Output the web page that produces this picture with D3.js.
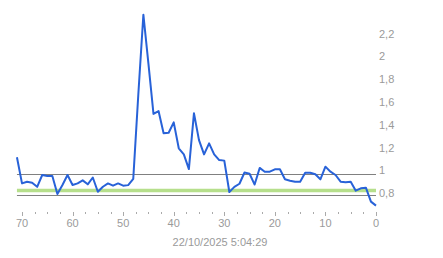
<!DOCTYPE html>
<html>
<head>
<meta charset="utf-8">
<script src="https://cdn.jsdelivr.net/npm/d3@7"></script>
<style>
  body { margin: 0; background: #fff; }
  svg text { font-family: "Liberation Sans", Arial, sans-serif; fill: #9a9a9a; }
</style>
</head>
<body>
<div id="chart"></div>
<script>
// x = periods back (71 .. 0), one value per period
var periods = d3.range(71, -1, -1);
var values = [
  1.149, 0.92, 0.935, 0.926, 0.89, 0.994, 0.985, 0.985, 0.827, 0.906,
  0.994, 0.906, 0.92, 0.947, 0.912, 0.972, 0.847, 0.891, 0.92, 0.9,
  0.92, 0.9, 0.905, 0.96, 1.70, 2.40, 1.97, 1.53, 1.555, 1.36,
  1.365, 1.456, 1.228, 1.175, 1.046, 1.535, 1.30, 1.175, 1.272, 1.175,
  1.125, 1.12, 0.845, 0.89, 0.917, 1.016, 1.005, 0.91, 1.056, 1.023,
  1.023, 1.044, 1.044, 0.956, 0.944, 0.935, 0.935, 1.014, 1.014, 1.0,
  0.956, 1.067, 1.023, 0.994, 0.935, 0.93, 0.935, 0.856, 0.877, 0.883,
  0.76, 0.725
];
var refLines = [1.0, 0.815];
var greenLine = [0.857];
var xTicks = [70, 60, 50, 40, 30, 20, 10, 0];
var xMinorTicks = d3.range(0, 70.1, 2.5);
var yTicks = [0.8, 1, 1.2, 1.4, 1.6, 1.8, 2, 2.2];
var dateLabel = "22/10/2025 5:04:29";

(function() {
  var width = 443, height = 258;

  var svg = d3.select("#chart").append("svg")
    .attr("width", width)
    .attr("height", height);

  var x = d3.scaleLinear().domain([70, 0]).range([22, 376]);
  var y = d3.scaleLinear().domain([1, 2.2]).range([174.3, 37.5]);

  var fmt = function(v) { return d3.format("~g")(+v.toFixed(1)).replace(".", ","); };

  // y labels, baseline sitting on the tick value
  svg.append("g").selectAll("text")
    .data(yTicks)
    .enter().append("text")
    .attr("x", 379)
    .attr("y", function(d) { return y(d); })
    .style("font-size", "11px")
    .text(fmt);

  // reference lines
  svg.append("g").selectAll("line")
    .data(refLines)
    .enter().append("line")
    .attr("x1", x(71)).attr("x2", x(0))
    .attr("y1", function(d) { return Math.round(y(d)) + 0.5; })
    .attr("y2", function(d) { return Math.round(y(d)) + 0.5; })
    .attr("stroke", "#808080")
    .attr("stroke-width", 1);

  svg.append("g").selectAll("line")
    .data(greenLine)
    .enter().append("line")
    .attr("x1", x(71)).attr("x2", x(0))
    .attr("y1", function(d) { return y(d); })
    .attr("y2", function(d) { return y(d); })
    .attr("stroke", "#b6df8c")
    .attr("stroke-width", 3.5);

  // the series
  var line = d3.line()
    .x(function(d, i) { return x(periods[i]); })
    .y(function(d) { return y(d); });

  svg.append("path")
    .datum(values)
    .attr("d", line)
    .attr("fill", "none")
    .attr("stroke", "#2862d8")
    .attr("stroke-width", 2)
    .attr("stroke-linejoin", "round");

  // x axis ticks
  var axisY = 212;
  svg.append("g").selectAll("line")
    .data(xMinorTicks)
    .enter().append("line")
    .attr("x1", function(d) { return Math.round(x(d)) + 0.5; })
    .attr("x2", function(d) { return Math.round(x(d)) + 0.5; })
    .attr("y1", axisY)
    .attr("y2", function(d) { return d % 10 === 0 ? axisY + 4 : axisY + 2; })
    .attr("stroke", "#aaa");

  svg.append("g").selectAll("text")
    .data(xTicks)
    .enter().append("text")
    .attr("x", function(d) { return x(d); })
    .attr("y", 226.5)
    .attr("text-anchor", "middle")
    .style("font-size", "11px")
    .text(function(d) { return d; });

  svg.append("text")
    .attr("x", 220)
    .attr("y", 245.5)
    .attr("text-anchor", "middle")
    .style("font-size", "11px")
    .text(dateLabel);
})();
</script>
</body>
</html>
